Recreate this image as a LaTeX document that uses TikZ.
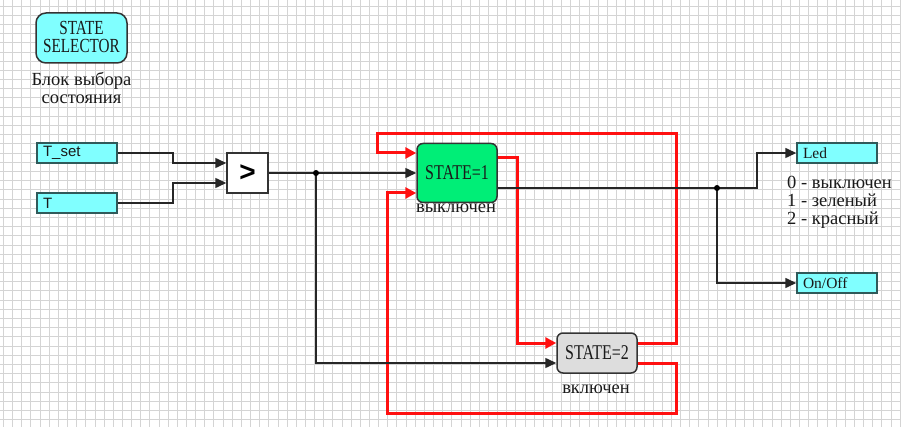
\documentclass[tikz,border=0pt]{standalone}
\usepackage{fontspec}
\setmainfont{Liberation Serif}
\newfontfamily\condf[FakeStretch=0.76]{Liberation Serif}
\newfontfamily\sansf{Liberation Sans}
\usetikzlibrary{arrows.meta}
\definecolor{cyanf}{HTML}{80FFFF}
\definecolor{greenf}{HTML}{00EE77}
\definecolor{grayf}{HTML}{DDDDDD}
\definecolor{redl}{HTML}{FF1010}
\definecolor{edgec}{HTML}{333333}
\definecolor{tealedge}{HTML}{2F5A5A}
\definecolor{txt}{HTML}{1A1A1A}
\definecolor{gridc}{HTML}{D4D4D4}
\begin{document}
\begin{tikzpicture}[x=1pt,y=-1pt,
  gridline/.style={draw=gridc,line width=0.6pt},
  cyanbox/.style={draw=tealedge,fill=cyanf,line width=1.5pt,minimum width=80pt,minimum height=20pt,inner sep=0pt,text width=68pt,align=left,text=txt},
  statebox/.style={draw=edgec,line width=1.5pt,rounded corners=6pt,minimum width=80pt,inner sep=0pt,text=txt,font=\condf\fontsize{21}{22}\selectfont},
  lbl/.style={text=txt,inner sep=0pt,font=\fontsize{18.5}{19}\selectfont},
  blk/.style={draw=black!85,line width=1.5pt},
  blkarr/.style={blk,-{Triangle[length=11pt,width=10pt]}},
  redarr/.style={draw=redl,line width=3pt,-{Triangle[length=11pt,width=11pt]}},
  dot/.style={fill=black,inner sep=0pt,minimum size=6pt,circle}
]
\useasboundingbox (0,0) rectangle (901,427);
\fill[white] (0,0) rectangle (901,427);
% grid
\foreach \i in {0,...,98} \draw[gridline] ({3.3+9.15*\i},0) -- ({3.3+9.15*\i},427);
\foreach \j in {0,...,46} \draw[gridline] (0,{5.9+9.19*\j}) -- (901,{5.9+9.19*\j});

% nodes
\node[draw=edgec,fill=cyanf,line width=1.5pt,rounded corners=10pt,minimum width=91pt,minimum height=50pt,inner sep=0pt,text=txt] (sel) at (81.5,38) {};
\node[text=txt,inner sep=0pt,anchor=base,font=\condf\fontsize{20}{20}\selectfont] (selt1) at (81.5,35) {STATE};
\node[text=txt,inner sep=0pt,anchor=base,font=\condf\fontsize{20}{20}\selectfont] (selt2) at (81.5,53) {SELECTOR};
\node[lbl,anchor=base] (sela) at (81.5,86) {Блок выбора};
\node[lbl,anchor=base] (selb) at (81.5,104) {состояния};

\node[cyanbox,font=\sansf\fontsize{15}{15}\selectfont] (tset) at (77,153) {T\_set};
\node[cyanbox,font=\sansf\fontsize{15}{15}\selectfont] (t) at (77,203) {T};

\node[draw=edgec,fill=white,line width=1.5pt,minimum width=41pt,minimum height=40pt,inner sep=0pt,font=\sansf\bfseries\fontsize{28}{28}\selectfont] (cmp) at (247.5,173) {>};

\node[statebox,fill=greenf,minimum height=59pt] (s1) at (457,173) {STATE=1};
\node[lbl,anchor=base] (s1l) at (456,213) {выключен};
\node[statebox,fill=grayf,minimum height=40pt] (s2) at (597,353) {STATE=2};
\node[lbl,anchor=base] (s2l) at (596,393) {включен};

\node[cyanbox,font=\fontsize{15.5}{16}\selectfont] (led) at (837,153) {Led};
\node[cyanbox,font=\fontsize{15.5}{16}\selectfont] (onoff) at (837,283) {On/Off};

\node[lbl,anchor=base west] (lg0) at (787,189) {0 - выключен};
\node[lbl,anchor=base west] (lg1) at (787,207) {1 - зеленый};
\node[lbl,anchor=base west] (lg2) at (787,225) {2 - красный};

\coordinate (j1) at (316,173);
\coordinate (j2) at (717,188);

% red connectors
\draw[redarr] ([yshift=10pt]s2.east) -| (676,134) -- (377,134) |- ([yshift=20pt]s1.west);
\draw[redarr] ([yshift=15pt]s1.east) -- ++(20,0) |- ([yshift=10pt]s2.west);
\draw[redarr] ([yshift=-10pt]s2.east) -- ++(39,0) -- ++(0,50) -- (387,413) |- ([yshift=-20pt]s1.west);

% black connectors
\draw[blkarr] (tset.east) -- ++(55,0) |- ([yshift=10pt]cmp.west);
\draw[blkarr] (t.east) -- ++(55,0) |- ([yshift=-10pt]cmp.west);
\draw[blk] (cmp.east) -- (j1);
\draw[blkarr] (j1) -- (s1.west);
\draw[blkarr] (j1) |- ([yshift=-10pt]s2.west);
\draw[blk] ([yshift=-15pt]s1.east) -- (j2);
\draw[blkarr] (j2) -- ++(40,0) |- (led.west);
\draw[blkarr] (j2) |- (onoff.west);
\node[dot] (d1) at (j1) {};
\node[dot] (d2) at (j2) {};
\end{tikzpicture}
\end{document}
